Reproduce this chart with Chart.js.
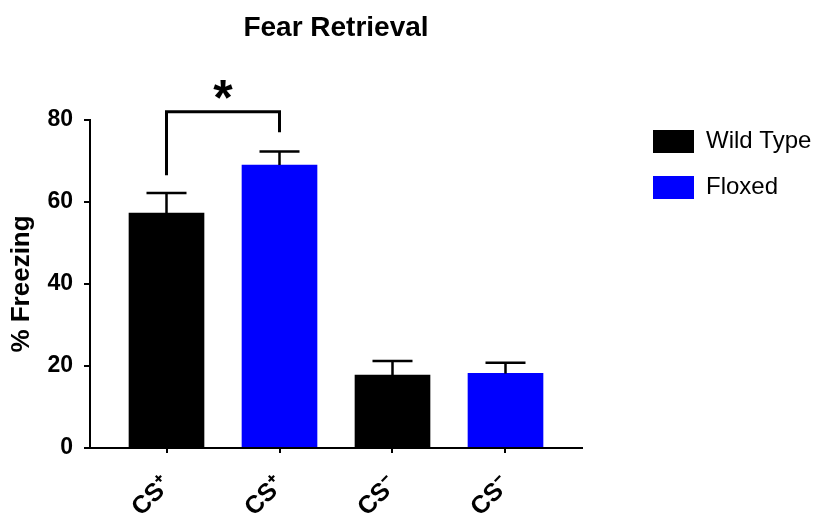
<!DOCTYPE html>
<html>
<head>
<meta charset="utf-8">
<title>Fear Retrieval</title>
<script src="https://cdn.jsdelivr.net/npm/chart.js@4/dist/chart.umd.min.js"></script>
<style>
  html, body { margin: 0; padding: 0; background: #ffffff; }
  canvas { display: block; }
</style>
</head>
<body>
<canvas id="chart" width="829" height="519"></canvas>
<script>
// Categories along the x axis (one bar each)
const categories = ['CS\u207A', 'CS\u207A', 'CS\u207B', 'CS\u207B'];

// % freezing, mean and SEM per group (null = no bar in that slot)
const wildType    = [57.3, null, 17.8, null];
const wildTypeSem = [4.9,  null, 3.4,  null];
const floxed      = [null, 69.0, null, 18.2];
const floxedSem   = [null, 3.3,  null, 2.6];

// y axis ticks
const yTicks = [0, 20, 40, 60, 80];

// significance bracket between the two CS+ bars (values in % freezing)
const comparisonSlots = [1, 2];
const comparisonLevels = [66.5, 82, 77];   // left arm end, bracket top, right arm end
const comparisonMarkLevel = 87.5;
const comparisonMark = '*';

const FONT = '"Liberation Sans", Arial, Helvetica, sans-serif';
Chart.defaults.font.family = FONT;
Chart.defaults.color = '#000000';

function toPoints(values, sems) {
  return values
    .map((v, i) => ({ x: i + 1, y: v, sem: sems[i] }))
    .filter(p => p.y !== null);
}

// upward SEM whiskers with caps
const errorBars = {
  id: 'errorBars',
  afterDatasetsDraw(chart) {
    const ctx = chart.ctx;
    const y = chart.scales.y;
    ctx.save();
    ctx.strokeStyle = '#000000';
    ctx.lineWidth = 2.5;
    chart.data.datasets.forEach((ds, di) => {
      const meta = chart.getDatasetMeta(di);
      meta.data.forEach((bar, j) => {
        const p = ds.data[j];
        const yTop = y.getPixelForValue(p.y + p.sem);
        ctx.beginPath();
        ctx.moveTo(bar.x, bar.y);
        ctx.lineTo(bar.x, yTop);
        ctx.moveTo(bar.x - 20, yTop);
        ctx.lineTo(bar.x + 20, yTop);
        ctx.stroke();
      });
    });
    ctx.restore();
  }
};

// bracket and star above the compared bars
const significance = {
  id: 'significance',
  afterDraw(chart) {
    const ctx = chart.ctx;
    const x = chart.scales.x, y = chart.scales.y;
    const x1 = x.getPixelForValue(comparisonSlots[0]);
    const x2 = x.getPixelForValue(comparisonSlots[1]);
    ctx.save();
    ctx.strokeStyle = '#000000';
    ctx.lineWidth = 3;
    ctx.lineJoin = 'miter';
    ctx.beginPath();
    ctx.moveTo(x1, y.getPixelForValue(comparisonLevels[0]));
    ctx.lineTo(x1, y.getPixelForValue(comparisonLevels[1]));
    ctx.lineTo(x2, y.getPixelForValue(comparisonLevels[1]));
    ctx.lineTo(x2, y.getPixelForValue(comparisonLevels[2]));
    ctx.stroke();
    ctx.fillStyle = '#000000';
    ctx.font = 'bold 50px ' + FONT;
    ctx.textAlign = 'center';
    ctx.textBaseline = 'alphabetic';
    const m = ctx.measureText(comparisonMark);
    const cy = y.getPixelForValue(comparisonMarkLevel);
    const base = cy + (m.actualBoundingBoxAscent - m.actualBoundingBoxDescent) / 2;
    ctx.fillText(comparisonMark, (x1 + x2) / 2, base);
    ctx.restore();
  }
};

new Chart(document.getElementById('chart').getContext('2d'), {
  type: 'bar',
  data: {
    datasets: [
      {
        label: 'Wild Type',
        data: toPoints(wildType, wildTypeSem),
        backgroundColor: '#000000',
        borderWidth: 0,
        barThickness: 75,
        grouped: false
      },
      {
        label: 'Floxed',
        data: toPoints(floxed, floxedSem),
        backgroundColor: '#0000ff',
        borderWidth: 0,
        barThickness: 75,
        grouped: false
      }
    ]
  },
  options: {
    responsive: false,
    animation: false,
    devicePixelRatio: 1,
    layout: { padding: { left: 0, right: 8, top: 0, bottom: 0 } },
    plugins: {
      title: {
        display: true,
        text: 'Fear Retrieval',
        fullSize: false,
        color: '#000000',
        font: { size: 28, weight: 'bold' },
        padding: { top: 11, bottom: 75.4 }
      },
      legend: {
        position: 'right',
        align: 'start',
        maxWidth: 190,
        title: { display: true, text: '', font: { size: 10 }, padding: { top: 95.5, bottom: 0 } },
        labels: {
          boxWidth: 41,
          boxHeight: 23,
          padding: 22,
          color: '#000000',
          font: { size: 24 }
        }
      },
      tooltip: { enabled: false }
    },
    scales: {
      x: {
        type: 'linear',
        min: 0.323,
        max: 4.677,
        offset: false,
        afterBuildTicks: s => { s.ticks = categories.map((c, i) => ({ value: i + 1 })); },
        afterFit: s => { s.height = 71; },
        ticks: {
          callback: v => categories[Math.round(v) - 1],
          autoSkip: false,
          maxRotation: 45,
          minRotation: 45,
          padding: 18,
          color: '#000000',
          font: { size: 25, weight: 'bold' }
        },
        grid: { display: true, drawOnChartArea: false, drawTicks: true, tickLength: 5, color: '#000000', lineWidth: 2, offset: false },
        border: { display: true, color: '#000000', width: 2, z: 1 }
      },
      y: {
        min: 0,
        max: 80,
        afterBuildTicks: s => { s.ticks = yTicks.map(v => ({ value: v })); },
        afterFit: s => { s.width = 90; },
        ticks: { padding: 11, color: '#000000', font: { size: 23, weight: 'bold' } },
        grid: { display: true, drawOnChartArea: false, drawTicks: true, tickLength: 6, color: '#000000', lineWidth: 2 },
        border: { display: true, color: '#000000', width: 2 },
        title: {
          display: true,
          text: '% Freezing',
          color: '#000000',
          font: { size: 26, weight: 'bold' },
          padding: { top: 6, bottom: 0 }
        }
      },
      gap: {
        type: 'linear',
        position: 'right',
        display: true,
        grid: { display: false },
        border: { display: false },
        ticks: { display: false },
        afterFit: s => { s.width = 49; }
      }
    }
  },
  plugins: [errorBars, significance]
});
</script>
</body>
</html>
